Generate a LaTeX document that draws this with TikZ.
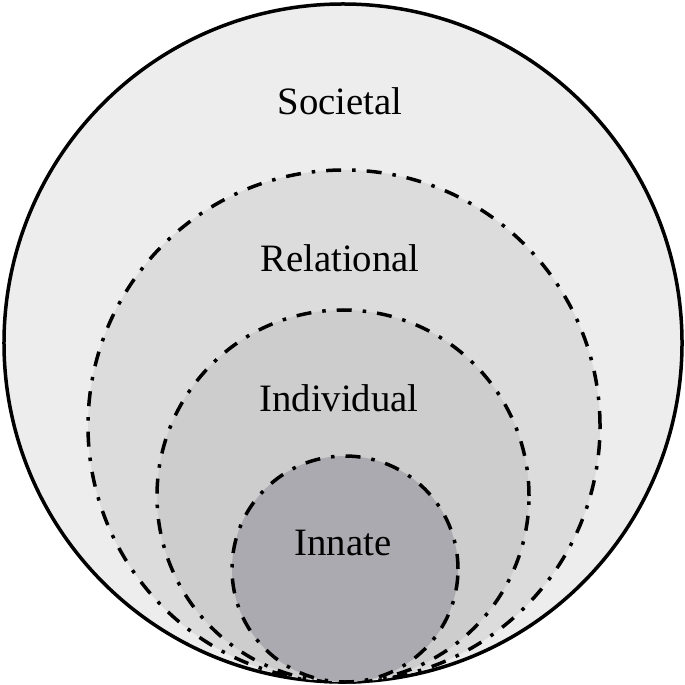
\documentclass[tikz,border=0pt]{standalone}
\usepackage{fontspec}
\setmainfont{Liberation Serif}
\definecolor{societalfill}{HTML}{EDEDED}
\definecolor{relationalfill}{HTML}{DCDCDC}
\definecolor{individualfill}{HTML}{CDCDCD}
\definecolor{innatefill}{HTML}{ABAAB0}
\begin{document}
\begin{tikzpicture}[x=0.4pt,y=-0.4pt,
  solidring/.style={draw=black,line width=1.4pt},
  dashring/.style={draw=black,line width=1.4pt,dash pattern=on 6pt off 4.4pt on 1.4pt off 4.4pt},
  ringlabel/.style={anchor=base,font=\fontsize{15.5pt}{18pt}\selectfont,inner sep=0pt}]
\useasboundingbox (0,0) rectangle (685,685);
\fill[white] (0,0) rectangle (685,685);
\path[solidring,fill=societalfill] (343,343) circle[radius=135.6pt];
\path[dashring,fill=relationalfill] (344,426) circle[radius=102.4pt];
\path[dashring,fill=individualfill] (343,496) circle[radius=74.4pt];
\path[dashring,fill=innatefill] (345,569) circle[radius=45.2pt];
\node[ringlabel] (societal) at (340,115) {Societal};
\node[ringlabel] (relational) at (340,271) {Relational};
\node[ringlabel] (individual) at (339,411) {Individual};
\node[ringlabel] (innate) at (343,555) {Innate};
\end{tikzpicture}
\end{document}
